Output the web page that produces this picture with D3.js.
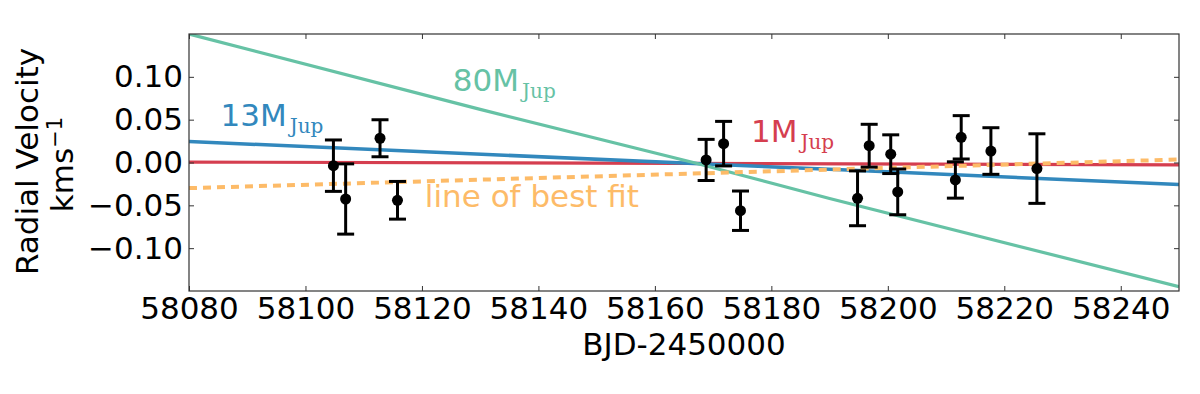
<!DOCTYPE html>
<html>
<head>
<meta charset="utf-8">
<script src="https://cdn.jsdelivr.net/npm/d3@7"></script>
<style>
  body { margin: 0; background: #fff; }
  text { font-family: "DejaVu Sans", sans-serif; }
</style>
</head>
<body>
<div class="chart"></div>
<script>
var svgWidth = 1200;
var svgHeight = 394;

var margin = { top: 34, right: 21, bottom: 103, left: 189 };
var width = svgWidth - margin.left - margin.right;
var height = svgHeight - margin.top - margin.bottom;

// observations (BJD-2450000, RV in km/s, 1-sigma error)
var obsDays = [58104.8, 58106.9, 58112.8, 58115.8, 58168.8, 58171.8, 58174.7,
  58194.8, 58196.8, 58200.5, 58201.7, 58211.6, 58212.6, 58217.7, 58225.6];
var obsRV = [-0.0037, -0.0426, 0.0283, -0.0441, 0.003, 0.022, -0.0563,
  -0.0418, 0.0196, 0.0097, -0.0343, -0.0204, 0.0294, 0.0134, -0.0071];
var obsErr = [0.030, 0.041, 0.0216, 0.022, 0.024, 0.026, 0.023,
  0.032, 0.025, 0.0226, 0.0267, 0.0212, 0.0253, 0.0272, 0.0406];

// model curves
var m80Days = [58080, 58130, 58166.6, 58190, 58250];
var m80RV = [0.150, 0.062, 0.0, -0.042, -0.145];
var m13Days = [58080, 58190, 58250];
var m13RV = [0.0245, -0.008, -0.0257];
var m1Days = [58080, 58250];
var m1RV = [0.0005, -0.0027];
var fitDays = [58080, 58250];
var fitRV = [-0.0299, 0.0035];

var xTicks = [58080, 58100, 58120, 58140, 58160, 58180, 58200, 58220, 58240];
var yTicks = [-0.10, -0.05, 0.00, 0.05, 0.10];

var svg = d3.select(".chart").append("svg")
  .attr("width", svgWidth)
  .attr("height", svgHeight);

var chartGroup = svg.append("g")
  .attr("transform", `translate(${margin.left}, ${margin.top})`);

var xScale = d3.scaleLinear().domain([58080, 58250]).range([0, width]);
var yScale = d3.scaleLinear().domain([-0.15, 0.15]).range([height, 0]);

chartGroup.append("clipPath").attr("id", "clip")
  .append("rect").attr("width", width).attr("height", height);

var plotArea = chartGroup.append("g").attr("clip-path", "url(#clip)");

function zip(days, rv) {
  return days.map((d, i) => [d, rv[i]]);
}

var line = d3.line()
  .x(d => xScale(d[0]))
  .y(d => yScale(d[1]));

var models = [
  { pts: zip(m1Days, m1RV), color: "#d53e4f", w: 3.2, dash: null },
  { pts: zip(m13Days, m13RV), color: "#3288bd", w: 3.5, dash: null },
  { pts: zip(m80Days, m80RV), color: "#66c2a5", w: 3.2, dash: null },
  { pts: zip(fitDays, fitRV), color: "#fdbb68", w: 4, dash: "8,6" }
];

models.forEach(function(m) {
  plotArea.append("path")
    .datum(m.pts)
    .attr("d", line)
    .attr("fill", "none")
    .attr("stroke", m.color)
    .attr("stroke-width", m.w)
    .attr("stroke-dasharray", m.dash);
});

// error bars + points
var obs = obsDays.map((d, i) => ({ day: d, rv: obsRV[i], err: obsErr[i] }));

var bars = plotArea.selectAll(".ebar").data(obs).enter().append("g")
  .attr("class", "ebar");

bars.append("line")
  .attr("x1", d => xScale(d.day)).attr("x2", d => xScale(d.day))
  .attr("y1", d => yScale(d.rv + d.err)).attr("y2", d => yScale(d.rv - d.err))
  .attr("stroke", "#000").attr("stroke-width", 3);

[1, -1].forEach(function(s) {
  bars.append("line")
    .attr("x1", d => xScale(d.day) - 8.5).attr("x2", d => xScale(d.day) + 8.5)
    .attr("y1", d => yScale(d.rv + s * d.err)).attr("y2", d => yScale(d.rv + s * d.err))
    .attr("stroke", "#000").attr("stroke-width", 3);
});

bars.append("circle")
  .attr("cx", d => xScale(d.day))
  .attr("cy", d => yScale(d.rv))
  .attr("r", 5.5)
  .attr("fill", "#000");

// axes, ticks pointing inward
var bottomAxis = d3.axisBottom(xScale).tickValues(xTicks).tickFormat(d3.format("d"))
  .tickSize(-5).tickPadding(6);
var leftAxis = d3.axisLeft(yScale).tickValues(yTicks).tickFormat(d3.format(".2f"))
  .tickSize(-5).tickPadding(6);
var topAxis = d3.axisTop(xScale).tickValues(xTicks).tickFormat("").tickSize(-5);
var rightAxis = d3.axisRight(yScale).tickValues(yTicks).tickFormat("").tickSize(-5);

chartGroup.append("g").attr("transform", `translate(0, ${height})`).call(bottomAxis);
chartGroup.append("g").call(leftAxis);
chartGroup.append("g").call(topAxis);
chartGroup.append("g").attr("transform", `translate(${width}, 0)`).call(rightAxis);

chartGroup.selectAll(".domain").remove();
chartGroup.selectAll(".tick line").attr("stroke", "#333").attr("stroke-width", 1);
chartGroup.selectAll(".tick text")
  .attr("fill", "#000")
  .style("font-family", "DejaVu Sans")
  .style("font-size", "31px");

chartGroup.append("rect")
  .attr("width", width).attr("height", height)
  .attr("fill", "none").attr("stroke", "#333").attr("stroke-width", 1.2);

// curve labels
var curveLabels = [
  { main: "13M", day: 58085.4, rv: 0.0426, color: "#3288bd" },
  { main: "80M", day: 58125.3, rv: 0.0835, color: "#66c2a5" },
  { main: "1M", day: 58176.5, rv: 0.0243, color: "#d53e4f" }
];

curveLabels.forEach(function(l) {
  var t = chartGroup.append("text")
    .attr("x", xScale(l.day)).attr("y", yScale(l.rv))
    .attr("fill", l.color)
    .style("font-size", "31px");
  t.append("tspan").text(l.main);
  t.append("tspan")
    .attr("dx", 3).attr("dy", 7)
    .style("font-family", "DejaVu Serif")
    .style("font-size", "20px")
    .text("Jup");
});

chartGroup.append("text")
  .attr("x", xScale(58120.5)).attr("y", yScale(-0.0516))
  .attr("fill", "#fdbb68")
  .style("font-size", "31px")
  .text("line of best fit");

// axis titles
svg.append("text")
  .attr("x", margin.left + width / 2).attr("y", 355)
  .attr("text-anchor", "middle")
  .style("font-size", "31px")
  .text("BJD-2450000");

var yMid = margin.top + height / 2;
svg.append("text")
  .attr("transform", `translate(38, ${yMid - 1}) rotate(-90)`)
  .attr("text-anchor", "middle")
  .style("font-size", "31px")
  .text("Radial Velocity");

var kms = svg.append("text")
  .attr("transform", `translate(73, ${yMid + 2}) rotate(-90)`)
  .attr("text-anchor", "middle")
  .style("font-size", "31px");
kms.append("tspan").text("kms");
kms.append("tspan").attr("dy", -11).style("font-size", "21px").text("\u22121");
</script>
</body>
</html>
